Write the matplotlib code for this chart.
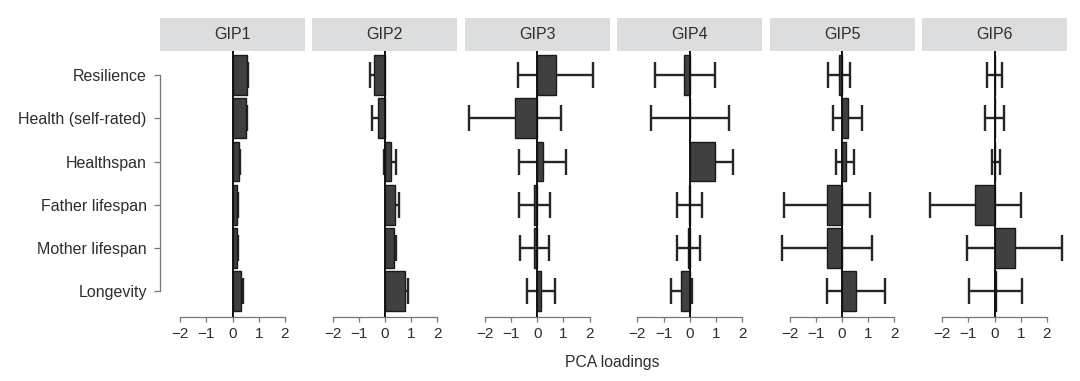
import matplotlib
matplotlib.use("Agg")
import matplotlib.pyplot as plt
import numpy as np

plt.rcParams['font.family'] = ['Liberation Sans', 'DejaVu Sans']

categories = ["Resilience", "Health (self-rated)", "Healthspan",
              "Father lifespan", "Mother lifespan", "Longevity"]
panels = ["GIP1", "GIP2", "GIP3", "GIP4", "GIP5", "GIP6"]
xticks = [-2, -1, 0, 1, 2]

gip1 = [0.57, 0.50, 0.25, 0.19, 0.18, 0.33]
gip1_lo = [0.53, 0.46, 0.22, 0.16, 0.15, 0.28]
gip1_hi = [0.61, 0.54, 0.28, 0.22, 0.21, 0.40]

gip2 = [-0.40, -0.28, 0.23, 0.39, 0.33, 0.76]
gip2_lo = [-0.56, -0.50, -0.05, 0.25, 0.22, 0.63]
gip2_hi = [-0.25, -0.12, 0.42, 0.54, 0.44, 0.89]

gip3 = [0.72, -0.86, 0.22, -0.13, -0.14, 0.16]
gip3_lo = [-0.72, -2.62, -0.71, -0.70, -0.68, -0.40]
gip3_hi = [2.14, 0.90, 1.10, 0.48, 0.43, 0.67]

gip4 = [-0.20, 0.0, 0.97, -0.02, -0.05, -0.33]
gip4_lo = [-1.33, -1.49, 0.27, -0.49, -0.49, -0.70]
gip4_hi = [0.96, 1.52, 1.67, 0.46, 0.39, 0.08]

gip5 = [-0.13, 0.22, 0.14, -0.57, -0.57, 0.55]
gip5_lo = [-0.52, -0.36, -0.23, -2.22, -2.31, -0.57]
gip5_hi = [0.31, 0.75, 0.46, 1.08, 1.15, 1.62]

gip6 = [0.0, 0.0, 0.03, -0.73, 0.77, 0.04]
gip6_lo = [-0.28, -0.38, -0.10, -2.47, -1.04, -0.97]
gip6_hi = [0.27, 0.37, 0.21, 1.03, 2.58, 1.06]

values = [gip1, gip2, gip3, gip4, gip5, gip6]
lows = [gip1_lo, gip2_lo, gip3_lo, gip4_lo, gip5_lo, gip6_lo]
highs = [gip1_hi, gip2_hi, gip3_hi, gip4_hi, gip5_hi, gip6_hi]

W, H = 1080, 381
fig = plt.figure(figsize=(W / 100, H / 100), dpi=100)

txt = '#2e2e2e'
axc = '#777777'
left0 = 160
pw = 145
step = 152.4
top_px = 51
bot_px = 317
strip_top = 17.5

ypos = np.arange(1, len(categories) + 1)

for i, name in enumerate(panels):
    lx = left0 + i * step
    ax = fig.add_axes([lx / W, 1 - bot_px / H, pw / W, (bot_px - top_px) / H])
    v = np.array(values[i])
    lo = np.array(lows[i])
    hi = np.array(highs[i])
    ax.errorbar(v, ypos, xerr=[v - lo, hi - v], fmt='none', ecolor='#262626',
                elinewidth=1.7, capsize=9.5, capthick=1.7, zorder=2)
    ax.barh(ypos, v, height=0.92, color='#404040', edgecolor='#1a1a1a',
            linewidth=1.0, zorder=3)
    ax.axvline(0, color='#111111', lw=1.4, zorder=4)
    ax.set_xlim(-2.77, 2.77)
    ax.set_ylim(6.6, 0.44)
    for s in ['top', 'right']:
        ax.spines[s].set_visible(False)
    ax.spines['bottom'].set_bounds(-2, 2)
    ax.spines['bottom'].set_color(axc)
    ax.spines['bottom'].set_linewidth(0.9)
    ax.set_xticks(xticks)
    ax.set_xticklabels([("\u2212%d" % -t) if t < 0 else str(t) for t in xticks])
    ax.tick_params(axis='x', direction='out', length=3.5, width=0.9, colors=axc,
                   labelcolor=txt, labelsize=11, pad=4)
    if i == 0:
        ax.spines['left'].set_bounds(1, 6)
        ax.spines['left'].set_color(axc)
        ax.spines['left'].set_linewidth(0.9)
        ax.set_yticks(ypos)
        ax.set_yticklabels(categories)
        ax.tick_params(axis='y', direction='out', length=4.5, width=0.9, colors=axc,
                       labelcolor=txt, labelsize=11.5, pad=5)
    else:
        ax.spines['left'].set_visible(False)
        ax.set_yticks([])
    sax = fig.add_axes([lx / W, 1 - top_px / H, pw / W, (top_px - strip_top) / H])
    sax.set_facecolor('#dcddde')
    for s in sax.spines.values():
        s.set_visible(False)
    sax.set_xticks([])
    sax.set_yticks([])
    sax.text(0.5, 0.5, name, ha='center', va='center', fontsize=11.5, color=txt,
             transform=sax.transAxes)

fig.text(612 / W, 1 - 362 / H, "PCA loadings", ha='center', va='center',
         fontsize=11.3, color=txt)

fig.savefig("out.png", dpi=100, facecolor='white')
